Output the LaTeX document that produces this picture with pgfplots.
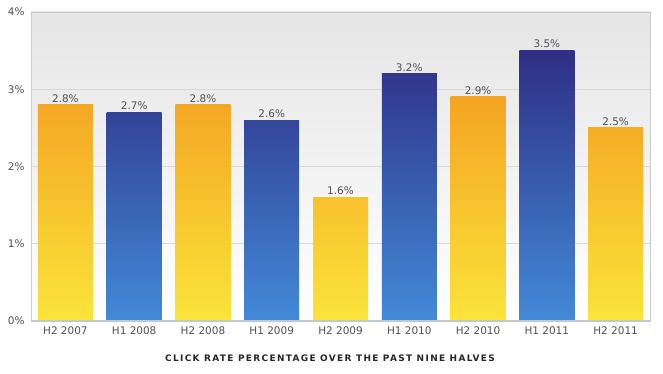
\documentclass[border=0pt]{standalone}
\usepackage{pgfplots}
\pgfplotsset{compat=1.18}
\usepackage{fontspec}
\setmainfont{DejaVu Sans}
\newfontfamily\titlefont[LetterSpace=15]{DejaVu Sans}
\definecolor{Y0}{RGB}{250,228,58}
\definecolor{O4}{RGB}{242,141,26}
\definecolor{B0}{RGB}{66,138,216}
\definecolor{B4}{RGB}{44,34,121}
\definecolor{txt}{RGB}{80,80,84}
\definecolor{gridc}{RGB}{216,216,216}
\definecolor{framec}{RGB}{204,204,204}
\definecolor{basec}{RGB}{192,200,210}
\newcommand\ob[3]{\addplot[ybar, bar width=55bp, bar shift=0pt, draw=none, top color=O4!#3!Y0, bottom color=Y0] coordinates {(#1,#2)};}
\newcommand\bb[3]{\addplot[ybar, bar width=55bp, bar shift=0pt, draw=none, top color=B4!#3!B0, bottom color=B0] coordinates {(#1,#2)};}
\begin{document}
\begin{tikzpicture}
\path[use as bounding box] (0,0) rectangle (663bp,374bp);
\begin{axis}[
  at={(31bp,53bp)}, anchor=south west,
  scale only axis, width=619bp, height=309bp,
  xmin=-0.5, xmax=8.5, ymin=0, ymax=4,
  /pgf/number format/assume math mode=true,
  xtick={0,...,8},
  xticklabels={H2 2007,H1 2008,H2 2008,H1 2009,H2 2009,H1 2010,H2 2010,H1 2011,H2 2011},
  ytick={0,1,2,3,4},
  yticklabel={\pgfmathprintnumber{\tick}\%},
  major tick length=0pt,
  tick label style={font=\fontsize{10.5}{12}\selectfont, text=txt},
  xticklabel style={yshift=-2bp},
  yticklabel style={xshift=-3bp},
  ymajorgrids, grid style={gridc, line width=0.8bp},
  axis line style={framec, line width=0.8bp},
  axis background/.style={top color=black!10, bottom color=white},
  after end axis/.code={\draw[basec, line width=2bp] (rel axis cs:0,0) -- (rel axis cs:1,0);},
]
\ob{0}{2.8}{70}
\bb{1}{2.7}{68}
\ob{2}{2.8}{70}
\bb{3}{2.6}{65}
\ob{4}{1.6}{40}
\bb{5}{3.2}{80}
\ob{6}{2.9}{73}
\bb{7}{3.5}{88}
\ob{8}{2.5}{63}
\addplot[draw=none, mark=none, point meta=y,
  nodes near coords={\pgfmathprintnumber[fixed,precision=1,fixed zerofill]{\pgfplotspointmeta}\%},
  every node near coord/.append style={font=\fontsize{10.5}{12}\selectfont, text=txt, anchor=south, yshift=-1bp}]
  coordinates {(0,2.8) (1,2.7) (2,2.8) (3,2.6) (4,1.6) (5,3.2) (6,2.9) (7,3.5) (8,2.5)};
\end{axis}
\node[font=\titlefont\bfseries\fontsize{9}{11}\selectfont, text=black!85] at (330bp,16bp) {CLICK RATE PERCENTAGE OVER THE PAST NINE HALVES};
\end{tikzpicture}
\end{document}
